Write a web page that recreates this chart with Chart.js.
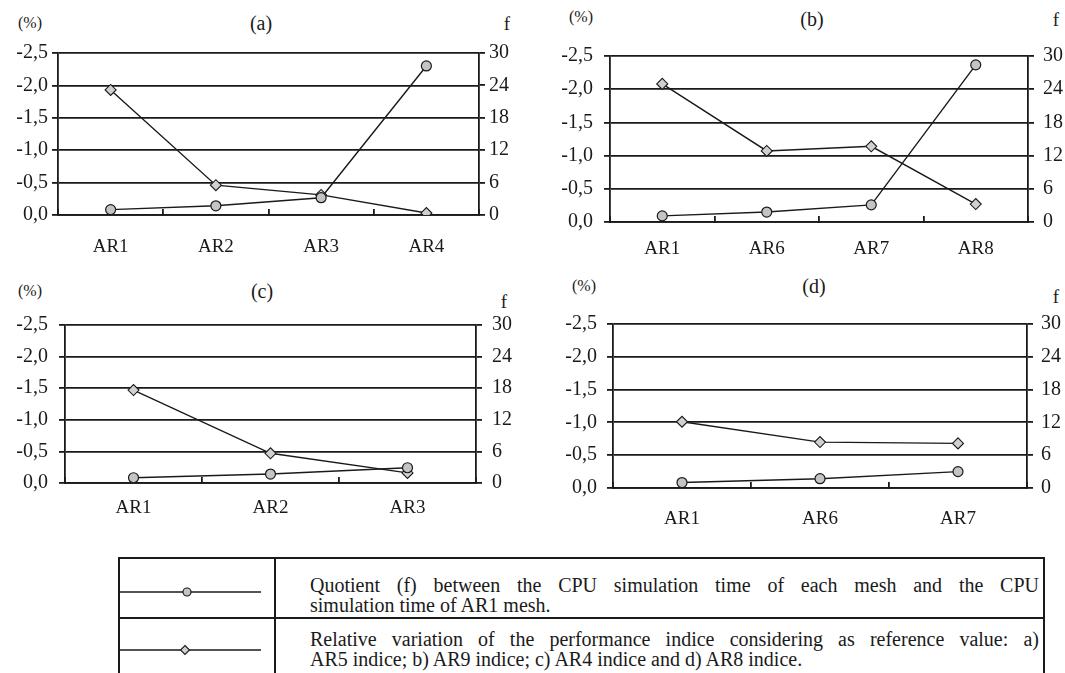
<!DOCTYPE html>
<html lang="en">
<head>
<meta charset="UTF-8">
<title>Relative variation and CPU time quotient</title>
<script src="https://cdn.jsdelivr.net/npm/chart.js"></script>
<style>
  body { margin: 0; width: 1065px; height: 673px; background: #fff; position: relative; overflow: hidden;
         font-family: "Liberation Serif", "Times New Roman", serif; color: #1a1a1a; }
  canvas { position: absolute; }
  .t { position: absolute; transform: translate(-50%, -50%); white-space: nowrap; line-height: 1; }
  .unit { font-size: 16px; }
  .ttl { font-size: 20px; }
  .fl { font-size: 19px; }
  #legend { position: absolute; left: 118px; top: 557px; width: 927px; height: 130px;
            border: 2px solid #1a1a1a; box-sizing: border-box; }
  .row { position: absolute; left: 0; right: 0; height: 58px; }
  .row.r2 { top: 58px; border-top: 2px solid #1a1a1a; }
  .sample { position: absolute; left: 0; top: 0; width: 154px; height: 58px; border-right: 2px solid #1a1a1a; }
  .txt { position: absolute; left: 190px; right: 4px; font-size: 20px; line-height: 20px; }
  .txt div.j { text-align: justify; text-align-last: justify; }
</style>
</head>
<body>

<span class="t unit" style="left:30px; top:23px">(%)</span>
<span class="t ttl" style="left:261px; top:23px">(a)</span>
<span class="t fl" style="left:507px; top:23px">f</span>

<span class="t unit" style="left:581px; top:17px">(%)</span>
<span class="t ttl" style="left:812px; top:19px">(b)</span>
<span class="t fl" style="left:1056px; top:19px">f</span>

<span class="t unit" style="left:30px; top:291px">(%)</span>
<span class="t ttl" style="left:262px; top:291px">(c)</span>
<span class="t fl" style="left:504px; top:301px">f</span>

<span class="t unit" style="left:584px; top:286px">(%)</span>
<span class="t ttl" style="left:814px; top:286px">(d)</span>
<span class="t fl" style="left:1056px; top:296px">f</span>

<canvas id="chartA" width="535" height="270" style="left:0px; top:0px"></canvas>
<canvas id="chartB" width="525" height="270" style="left:540px; top:0px"></canvas>
<canvas id="chartC" width="535" height="250" style="left:0px; top:275px"></canvas>
<canvas id="chartD" width="525" height="255" style="left:540px; top:275px"></canvas>

<div id="legend">
  <div class="row">
    <div class="sample">
      <svg width="154" height="58">
        <line x1="0" y1="33" x2="141" y2="33" stroke="#1a1a1a" stroke-width="1.6"/>
        <circle cx="67" cy="33" r="4" fill="#c4c4c4" stroke="#1a1a1a" stroke-width="1.2"/>
      </svg>
    </div>
    <div class="txt" style="top:16px">
      <div class="j">Quotient (f) between the CPU simulation time of each mesh and the CPU</div>
      <div>simulation time of AR1 mesh.</div>
    </div>
  </div>
  <div class="row r2">
    <div class="sample">
      <svg width="154" height="58">
        <line x1="0" y1="31" x2="141" y2="31" stroke="#1a1a1a" stroke-width="1.6"/>
        <polygon points="65,26.5 69.5,31 65,35.5 60.5,31" fill="#d0d0d0" stroke="#1a1a1a" stroke-width="1.1"/>
      </svg>
    </div>
    <div class="txt" style="top:10px">
      <div class="j">Relative variation of the performance indice considering as reference value: a)</div>
      <div>AR5 indice; b) AR9 indice; c) AR4 indice and d) AR8 indice.</div>
    </div>
  </div>
</div>

<script>
// (a)
const catsA = ['AR1', 'AR2', 'AR3', 'AR4'];
const pctA = [-1.93, -0.46, -0.31, -0.03];
const fA = [1.0, 1.7, 3.2, 27.6];

// (b)
const catsB = ['AR1', 'AR6', 'AR7', 'AR8'];
const pctB = [-2.08, -1.07, -1.14, -0.27];
const fB = [1.1, 1.8, 3.1, 28.4];

// (c)
const catsC = ['AR1', 'AR2', 'AR3'];
const pctC = [-1.47, -0.47, -0.16];
const fC = [1.0, 1.7, 2.9];

// (d)
const catsD = ['AR1', 'AR6', 'AR7'];
const pctD = [-1.01, -0.70, -0.68];
const fD = [1.0, 1.7, 3.0];

// axis ranges
const pctMin = -2.5, pctMax = 0, pctStep = 0.5;
const fMin = 0, fMax = 30, fStep = 6;

const ink = '#1a1a1a';
const tickFont = { family: '"Liberation Serif", "Times New Roman", serif', size: 20 };
const catFont = { family: '"Liberation Serif", "Times New Roman", serif', size: 19 };

function makePanel(id, cats, pct, f, box, plot, pad) {
    const ctx = document.getElementById(id).getContext('2d');
    new Chart(ctx, {
        type: 'line',
        data: {
            labels: cats,
            datasets: [{
                label: 'f',
                data: f,
                yAxisID: 'yf',
                borderColor: ink,
                borderWidth: 1.4,
                pointStyle: 'circle',
                pointRadius: 5,
                pointBackgroundColor: '#c4c4c4',
                pointBorderColor: ink,
                pointBorderWidth: 1.2,
                fill: false
            }, {
                label: '%',
                data: pct,
                yAxisID: 'yp',
                borderColor: ink,
                borderWidth: 1.4,
                pointStyle: 'rectRot',
                pointRadius: 5.5,
                pointBackgroundColor: '#d0d0d0',
                pointBorderColor: ink,
                pointBorderWidth: 1.1,
                fill: false
            }]
        },
        options: {
            responsive: false,
            animation: false,
            layout: { autoPadding: false, padding: { top: plot.t - box.y, left: 0, right: 0, bottom: 0 } },
            plugins: { legend: { display: false }, tooltip: { enabled: false } },
            scales: {
                x: {
                    offset: true,
                    grid: { offset: true, drawOnChartArea: false, drawTicks: true, tickLength: -6, color: ink, lineWidth: 1.8 },
                    border: { display: true, color: ink, width: 1.8 },
                    ticks: { color: ink, font: catFont, padding: pad.x, maxRotation: 0, autoSkip: false },
                    afterFit: s => { s.height = box.y + box.h - plot.b; }
                },
                yp: {
                    position: 'left',
                    reverse: true,
                    min: pctMin, max: pctMax,
                    grid: { color: ink, lineWidth: 1.8, tickLength: 6 },
                    border: { display: true, color: ink, width: 1.8 },
                    ticks: {
                        stepSize: pctStep, color: ink, font: tickFont, padding: pad.l,
                        callback: v => v.toFixed(1).replace('.', ',')
                    },
                    afterFit: s => { s.width = plot.l - box.x; }
                },
                yf: {
                    position: 'right',
                    min: fMin, max: fMax,
                    grid: { drawOnChartArea: false, color: ink, lineWidth: 1.8, tickLength: 6 },
                    border: { display: true, color: ink, width: 1.8 },
                    ticks: { stepSize: fStep, color: ink, font: tickFont, padding: pad.r },
                    afterFit: s => { s.width = box.x + box.w - plot.r; }
                }
            }
        }
    });
}

makePanel('chartA', catsA, pctA, fA,
    { x: 0, y: 0, w: 535, h: 270 }, { l: 58, t: 53, r: 479, b: 215 }, { l: 4, r: 4, x: 27 });
makePanel('chartB', catsB, pctB, fB,
    { x: 540, y: 0, w: 525, h: 270 }, { l: 610, t: 56, r: 1028, b: 222 }, { l: 11, r: 9, x: 22 });
makePanel('chartC', catsC, pctC, fC,
    { x: 0, y: 275, w: 535, h: 250 }, { l: 65, t: 325, r: 476, b: 483 }, { l: 11, r: 10, x: 20 });
makePanel('chartD', catsD, pctD, fD,
    { x: 540, y: 275, w: 525, h: 255 }, { l: 613, t: 324, r: 1027, b: 488 }, { l: 10, r: 8, x: 26 });
</script>
</body>
</html>
